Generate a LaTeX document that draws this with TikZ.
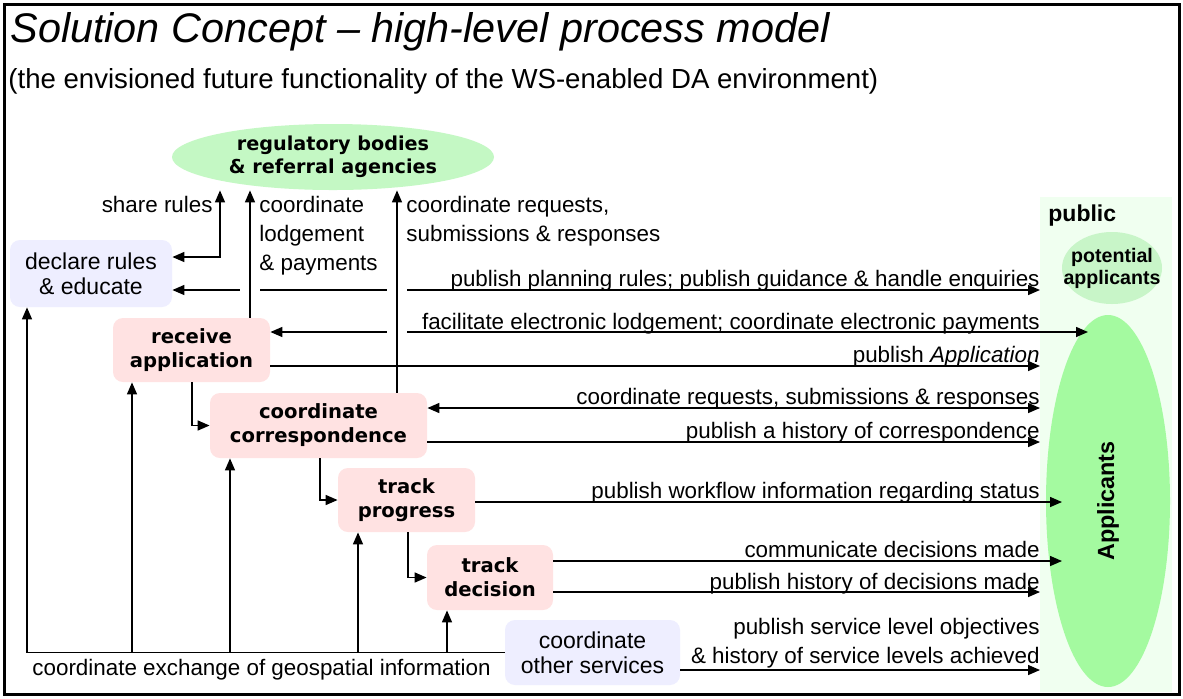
\documentclass[tikz,border=0pt]{standalone}
\usepackage{fontspec}
\setmainfont{Liberation Sans}
\newfontfamily\boxfont{DejaVu Sans}
\usetikzlibrary{arrows.meta,shapes.geometric}

\definecolor{taskpink}{RGB}{255,226,226}
\definecolor{otherlilac}{RGB}{238,238,255}
\definecolor{agencygreen}{RGB}{196,248,196}
\definecolor{potgreen}{RGB}{200,245,200}
\definecolor{appgreen}{RGB}{164,250,160}
\definecolor{publicgreen}{RGB}{240,255,240}

\begin{document}
\begin{tikzpicture}[
    x=0.5pt, y=-0.5pt,
    >={Triangle[length=6pt,width=5pt]},
    task/.style={rounded corners=5pt, fill=taskpink, align=center, inner sep=0pt,
        font=\boxfont\bfseries\fontsize{9.8}{12}\selectfont},
    other/.style={rounded corners=5pt, fill=otherlilac, align=center, inner sep=0pt,
        font=\fontsize{11.5}{12.5}\selectfont},
    agency/.style={ellipse, fill=agencygreen, align=center, inner sep=0pt,
        font=\boxfont\bfseries\fontsize{9.6}{11.5}\selectfont},
    lbl/.style={inner sep=0pt, align=left, font=\fontsize{11.2}{14.5}\selectfont},
    edge/.style={->, line width=0.75pt},
    link/.style={line width=0.75pt},
]
\useasboundingbox (0,0) rectangle (1183,698);
\fill[white] (0,0) rectangle (1183,698);

% Public side
\node[fill=publicgreen, minimum width=66pt, minimum height=247.5pt, inner sep=0pt, anchor=north west] (pub) at (1040,197) {};
\node[anchor=west, inner sep=0pt, font=\bfseries\fontsize{11.5}{13}\selectfont] (public) at (1048,216) {public};
\node[ellipse, fill=potgreen, minimum width=50pt, minimum height=36pt, inner xsep=-8pt, inner ysep=0pt, align=center,
    font=\bfseries\fontsize{9.8}{11}\selectfont] (pot) at (1112,268) {potential\\applicants};
\node[ellipse, fill=appgreen, rotate=90, minimum width=186pt, minimum height=62pt, inner sep=0pt,
    font=\bfseries\fontsize{11.7}{14}\selectfont] (appl) at (1108,501) {Applicants};

% Title
\node[anchor=base west, inner sep=0pt, font=\itshape\fontsize{20.7}{24}\selectfont] (title) at (10,42) {Solution Concept – high-level process model};
\node[anchor=base west, inner sep=0pt, font=\fontsize{13.8}{16}\selectfont] (subtitle) at (8,88) {(the envisioned future functionality of the WS-enabled DA environment)};

% Nodes
\node[agency, minimum width=161pt, minimum height=33pt] (reg) at (333,157) {regulatory bodies\\\& referral agencies};
\node[other, minimum width=81pt, minimum height=33.5pt] (decl) at (91,273.5) {declare rules\\\& educate};
\node[task, minimum width=78.5pt, minimum height=32pt] (recv) at (191.5,350) {receive\\application};
\node[task, minimum width=108.5pt, minimum height=32.5pt] (corr) at (318.5,425.5) {coordinate\\correspondence};
\node[task, minimum width=68.5pt, minimum height=32pt] (prog) at (406.5,500) {track\\progress};
\node[task, minimum width=63pt, minimum height=32.5pt] (dec) at (490,577.5) {track\\decision};
\node[other, minimum width=87.5pt, minimum height=32.5pt] (serv) at (592.5,652.5) {coordinate\\other services};

% Edges to the agencies
\draw[edge, <->] (decl.east |- 0,257) -| (reg.south -| 220,0);
\draw[edge] (recv.north -| 250,0) -- (reg.south -| 250,0);
\draw[edge] (corr.north -| 397,0) -- (reg.south -| 397,0);
\node[lbl, anchor=base east] (sharelbl) at (213,212) {share rules};
\node[lbl, anchor=base west] (lodgelbl) at (259,270) {coordinate\\lodgement\\\& payments};
\node[lbl, anchor=base west] (reqlbl) at (406,241) {coordinate requests,\\submissions \& responses};

% Edges to the public (gaps where they cross)
\coordinate (gap1) at (240,290);
\coordinate (gap2) at (260,290);
\coordinate (gap3) at (387,290);
\coordinate (gap4) at (407,290);
\coordinate (gap5) at (387,332);
\coordinate (gap6) at (407,332);
\coordinate (paytip) at (1088,332);
\coordinate (stattip) at (1062,502);
\coordinate (dectip) at (1062,561);
\draw[edge, <-] (decl.east |- gap1) -- (gap1);
\draw[link] (gap2) -- (gap3);
\draw[edge] (gap4) -- (pub.west |- gap4);
\draw[edge, <-] (recv.east |- gap5) -- (gap5);
\draw[edge] (gap6) -- (paytip);
\draw[edge] (recv.east |- 0,366) -- (pub.west |- 0,366);
\draw[edge, <->] (corr.east |- 0,408) -- (pub.west |- 0,408);
\draw[edge] (corr.east |- 0,442) -- (pub.west |- 0,442);
\draw[edge] (prog.east |- stattip) -- (stattip);
\draw[edge] (dec.east |- dectip) -- (dectip);
\draw[edge] (dec.east |- 0,592) -- (pub.west |- 0,592);
\draw[edge] (serv.east |- 0,670) -- (pub.west |- 0,670);

\node[lbl, anchor=base east] (enqlbl) at (1040,286) {publish planning rules; publish guidance \& handle enquiries};
\node[lbl, anchor=base east] (paylbl) at (1040,329) {facilitate electronic lodgement; coordinate electronic payments};
\node[lbl, anchor=base east] (publbl) at (1040,362) {publish \textit{Application}};
\node[lbl, anchor=base east] (resplbl) at (1040,404) {coordinate requests, submissions \& responses};
\node[lbl, anchor=base east] (histlbl) at (1040,438) {publish a history of correspondence};
\node[lbl, anchor=base east] (statlbl) at (1040,498) {publish workflow information regarding status};
\node[lbl, anchor=base east] (commlbl) at (1040,557) {communicate decisions made};
\node[lbl, anchor=base east] (declbl) at (1040,589) {publish history of decisions made};
\node[lbl, anchor=base east, align=right] (servlbl) at (1040,663) {publish service level objectives\\\& history of service levels achieved};

% Process flow
\draw[edge] (recv.south -| 192,0) |- (corr.west);
\draw[edge] (corr.south -| 320,0) |- (prog.west);
\draw[edge] (prog.south -| 408,0) |- (dec.west);

% Geospatial exchange
\coordinate (geo) at (27,652);
\draw[edge] (serv.west) -| (decl.south -| geo);
\foreach \n/\x in {recv/132, corr/230, prog/358, dec/447}
    \draw[edge] (geo -| \x,0) -- (\n.south -| \x,0);
\node[lbl, anchor=base west] (geolbl) at (32,675) {coordinate exchange of geospatial information};

% Frame
\draw[line width=1.5pt] (4,4) rectangle (1179,694);
\end{tikzpicture}
\end{document}
